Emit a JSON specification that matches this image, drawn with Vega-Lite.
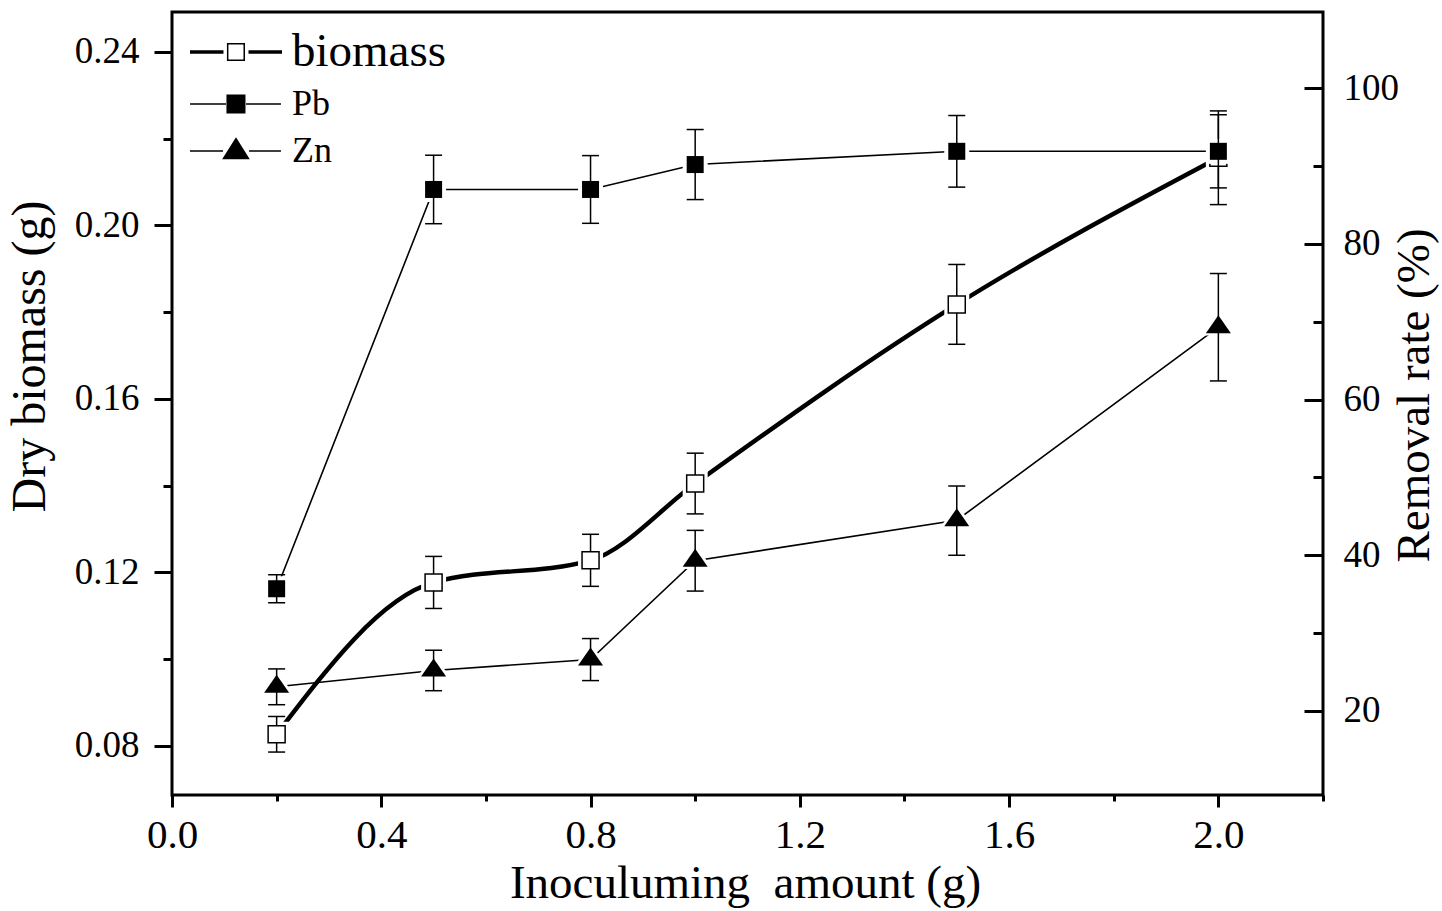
{
  "$schema": "https://vega.github.io/schema/vega-lite/v6.json",
  "width": 1151,
  "height": 783,
  "autosize": {"type": "none"},
  "padding": {"left": 172, "top": 12, "right": 119, "bottom": 116},
  "background": "white",
  "datasets": {
    "bio": [
      {"x": 0.2, "v": 0.0827, "lo": 0.0786, "hi": 0.0868},
      {"x": 0.5, "v": 0.1177, "lo": 0.1117, "hi": 0.1237},
      {"x": 0.8, "v": 0.1228, "lo": 0.1168, "hi": 0.1288},
      {"x": 1.0, "v": 0.1405, "lo": 0.1335, "hi": 0.1475},
      {"x": 1.5, "v": 0.1818, "lo": 0.1726, "hi": 0.1910},
      {"x": 2.0, "v": 0.2156, "lo": 0.2048, "hi": 0.2264}
    ],
    "metal": [
      {"s": "Pb", "x": 0.2, "v": 35.7, "lo": 33.9, "hi": 37.5},
      {"s": "Pb", "x": 0.5, "v": 87.0, "lo": 82.6, "hi": 91.4},
      {"s": "Pb", "x": 0.8, "v": 87.0, "lo": 82.65, "hi": 91.35},
      {"s": "Pb", "x": 1.0, "v": 90.2, "lo": 85.7, "hi": 94.7},
      {"s": "Pb", "x": 1.5, "v": 91.9, "lo": 87.3, "hi": 96.5},
      {"s": "Pb", "x": 2.0, "v": 91.9, "lo": 87.2, "hi": 96.6},
      {"s": "Zn", "x": 0.2, "v": 23.1, "lo": 20.8, "hi": 25.4},
      {"s": "Zn", "x": 0.5, "v": 25.2, "lo": 22.6, "hi": 27.8},
      {"s": "Zn", "x": 0.8, "v": 26.6, "lo": 23.9, "hi": 29.3},
      {"s": "Zn", "x": 1.0, "v": 39.3, "lo": 35.4, "hi": 43.2},
      {"s": "Zn", "x": 1.5, "v": 44.5, "lo": 40.0, "hi": 48.9},
      {"s": "Zn", "x": 2.0, "v": 69.3, "lo": 62.4, "hi": 76.2}
    ],
    "series": [{"s": "biomass"}, {"s": "Pb"}, {"s": "Zn"}]
  },
  "layer": [
    {
      "data": {"name": "bio"},
      "layer": [
        {
          "mark": {"type": "line", "interpolate": "monotone", "color": "black", "strokeWidth": 4.5},
          "encoding": {
            "x": {"field": "x", "type": "quantitative",
              "scale": {"domain": [0, 2.2], "nice": false, "zero": false},
              "axis": {"orient": "bottom", "values": [0, 0.4, 0.8, 1.2, 1.6, 2.0], "format": ".1f",
                "tickSize": 12, "tickWidth": 3, "labelFontSize": 41, "labelPadding": 8,
                "labelFlush": false, "labelOverlap": false,
                "title": "Inoculuming\u00a0 amount (g)", "titleFontSize": 47,
                "titleX": 573, "titleY": 102, "titleBaseline": "alphabetic", "titleAlign": "center"}},
            "y": {"field": "v", "type": "quantitative",
              "scale": {"domain": [0.0687, 0.2492], "nice": false, "zero": false},
              "axis": {"orient": "left", "values": [0.08, 0.12, 0.16, 0.20, 0.24], "format": ".2f",
                "tickSize": 18, "tickWidth": 3, "labelFontSize": 37, "labelPadding": 15,
                "labelOverlap": false, "labelFlush": false,
                "title": "Dry biomass (g)", "titleFontSize": 48, "titleAngle": 270,
                "titleX": -142, "titleY": 344, "titleBaseline": "middle", "titleAlign": "center"}}
          }
        },
        {
          "mark": {"type": "point", "shape": "square", "size": 625, "filled": true, "color": "white", "opacity": 1},
          "encoding": {"x": {"field": "x", "type": "quantitative"}, "y": {"field": "v", "type": "quantitative"}}
        },
        {
          "mark": {"type": "rule", "color": "black", "strokeWidth": 1.5, "opacity": 1},
          "encoding": {"x": {"field": "x", "type": "quantitative"}, "y": {"field": "lo", "type": "quantitative"}, "y2": {"field": "hi"}}
        },
        {
          "mark": {"type": "tick", "orient": "horizontal", "size": 17, "thickness": 1.5, "color": "black", "opacity": 1},
          "encoding": {"x": {"field": "x", "type": "quantitative"}, "y": {"field": "lo", "type": "quantitative"}}
        },
        {
          "mark": {"type": "tick", "orient": "horizontal", "size": 17, "thickness": 1.5, "color": "black", "opacity": 1},
          "encoding": {"x": {"field": "x", "type": "quantitative"}, "y": {"field": "hi", "type": "quantitative"}}
        },
        {
          "mark": {"type": "point", "shape": "square", "size": 289, "filled": true, "fill": "white", "stroke": "black", "strokeWidth": 1.5, "opacity": 1},
          "encoding": {"x": {"field": "x", "type": "quantitative"}, "y": {"field": "v", "type": "quantitative"}}
        }
      ]
    },
    {
      "data": {"name": "metal"},
      "layer": [
        {
          "mark": {"type": "line", "color": "black", "strokeWidth": 1.6},
          "encoding": {
            "x": {"field": "x", "type": "quantitative", "axis": null},
            "y": {"field": "v", "type": "quantitative",
              "scale": {"domain": [9.2, 109.8], "nice": false, "zero": false},
              "axis": {"orient": "right", "offset": -19, "values": [20, 40, 60, 80, 100],
                "tickSize": 19, "tickWidth": 3, "labelFontSize": 37, "labelPadding": 20,
                "labelOverlap": false, "labelFlush": false,
                "title": "Removal rate (%)", "titleFontSize": 47, "titleAngle": 270,
                "titleX": 110, "titleY": 383, "titleBaseline": "middle", "titleAlign": "center"}},
            "detail": {"field": "s"}
          }
        },
        {
          "transform": [{"filter": "datum.s === 'Pb'"}],
          "mark": {"type": "point", "shape": "square", "size": 625, "filled": true, "color": "white", "opacity": 1},
          "encoding": {"x": {"field": "x", "type": "quantitative", "axis": null}, "y": {"field": "v", "type": "quantitative"}}
        },
        {
          "transform": [{"filter": "datum.s === 'Zn'"}],
          "mark": {"type": "point", "shape": "M0,-0.96L-1,0.48L1,0.48Z", "size": 1225, "filled": true, "color": "white", "opacity": 1},
          "encoding": {"x": {"field": "x", "type": "quantitative", "axis": null}, "y": {"field": "v", "type": "quantitative"}}
        },
        {
          "mark": {"type": "rule", "color": "black", "strokeWidth": 1.5, "opacity": 1},
          "encoding": {"x": {"field": "x", "type": "quantitative", "axis": null}, "y": {"field": "lo", "type": "quantitative"}, "y2": {"field": "hi"}}
        },
        {
          "mark": {"type": "tick", "orient": "horizontal", "size": 17, "thickness": 1.5, "color": "black", "opacity": 1},
          "encoding": {"x": {"field": "x", "type": "quantitative", "axis": null}, "y": {"field": "lo", "type": "quantitative"}}
        },
        {
          "mark": {"type": "tick", "orient": "horizontal", "size": 17, "thickness": 1.5, "color": "black", "opacity": 1},
          "encoding": {"x": {"field": "x", "type": "quantitative", "axis": null}, "y": {"field": "hi", "type": "quantitative"}}
        },
        {
          "transform": [{"filter": "datum.s === 'Pb'"}],
          "mark": {"type": "point", "shape": "square", "size": 289, "filled": true, "color": "black", "opacity": 1},
          "encoding": {"x": {"field": "x", "type": "quantitative", "axis": null}, "y": {"field": "v", "type": "quantitative"}}
        },
        {
          "transform": [{"filter": "datum.s === 'Zn'"}],
          "mark": {"type": "point", "shape": "M0,-0.96L-1,0.48L1,0.48Z", "size": 625, "filled": true, "color": "black", "opacity": 1},
          "encoding": {"x": {"field": "x", "type": "quantitative", "axis": null}, "y": {"field": "v", "type": "quantitative"}}
        },
        {
          "data": {"name": "series"},
          "mark": {"type": "point", "filled": true, "stroke": "black", "strokeWidth": 1.5, "opacity": 0, "size": 576},
          "encoding": {
            "shape": {"field": "s", "type": "nominal",
              "scale": {"domain": ["biomass", "Pb", "Zn"],
                "range": [
                  "M-1,-0.09H1.79M-1,0H1.79M-1,0.09H1.79M3.875,-0.09H6.667M3.875,0H6.667M3.875,0.09H6.667M2.14,-0.69H3.52V0.69H2.14Z",
                  "M-1,0H2.0M3.67,0H6.58M2.1,-0.73H3.56V0.73H2.1Z",
                  "M-1,0H1.75M3.92,0H6.58M2.833,-1.03L1.79,0.63L3.87,0.63Z"
                ]},
              "legend": {"title": null, "orient": "none", "legendX": 12, "legendY": 22, "direction": "vertical",
                "symbolSize": 576, "symbolStrokeColor": "black", "symbolStrokeWidth": 1.5, "symbolOpacity": 1,
                "labelFont": "Liberation Serif", "labelFontSize": 36, "labelColor": "black", "labelOffset": 72,
                "labelLimit": 0, "rowPadding": 11, "padding": 0,
                "encode": {"labels": {"update": {"fontSize": {"signal": "datum.value === 'biomass' ? 47 : 36"}}},
                  "symbols": {"update": {"opacity": {"value": 1}}}}}},
            "fill": {"field": "s", "type": "nominal",
              "scale": {"domain": ["biomass", "Pb", "Zn"], "range": ["white", "black", "black"]},
              "legend": {"title": null, "orient": "none", "legendX": 12, "legendY": 22, "direction": "vertical",
                "symbolSize": 576, "symbolStrokeColor": "black", "symbolStrokeWidth": 1.5, "symbolOpacity": 1,
                "labelFont": "Liberation Serif", "labelFontSize": 36, "labelColor": "black", "labelOffset": 72,
                "labelLimit": 0, "rowPadding": 11, "padding": 0,
                "encode": {"labels": {"update": {"fontSize": {"signal": "datum.value === 'biomass' ? 47 : 36"}}},
                  "symbols": {"update": {"opacity": {"value": 1}}}}}}
          }
        }
      ]
    },
    {
      "data": {"name": "bio"},
      "mark": {"type": "point", "opacity": 0},
      "encoding": {
        "x": {"field": "x", "type": "quantitative",
          "axis": {"orient": "bottom", "values": [0.2, 0.6, 1.0, 1.4, 1.8, 2.2], "tickSize": 6, "tickWidth": 3,
            "labels": false, "domain": false, "title": null}},
        "y": {"field": "v", "type": "quantitative",
          "scale": {"domain": [0.0687, 0.2492], "nice": false, "zero": false},
          "axis": {"orient": "left", "values": [0.10, 0.14, 0.18, 0.22], "tickSize": 9, "tickWidth": 3,
            "labels": false, "domain": false, "title": null}}
      }
    },
    {
      "data": {"name": "metal"},
      "mark": {"type": "point", "opacity": 0},
      "encoding": {
        "x": {"field": "x", "type": "quantitative", "axis": null},
        "y": {"field": "v", "type": "quantitative",
          "scale": {"domain": [9.2, 109.8], "nice": false, "zero": false},
          "axis": {"orient": "right", "offset": -10, "values": [30, 50, 70, 90], "tickSize": 10, "tickWidth": 3,
            "labels": false, "domain": false, "title": null}}
      }
    }
  ],
  "resolve": {"scale": {"y": "independent"}, "axis": {"x": "independent", "y": "independent"}},
  "config": {
    "font": "Liberation Serif",
    "view": {"stroke": "black", "strokeWidth": 3},
    "axis": {"labelFont": "Liberation Serif", "titleFont": "Liberation Serif", "labelColor": "black",
      "titleColor": "black", "tickColor": "black", "domain": false, "grid": false, "titleFontWeight": "normal"}
  }
}
